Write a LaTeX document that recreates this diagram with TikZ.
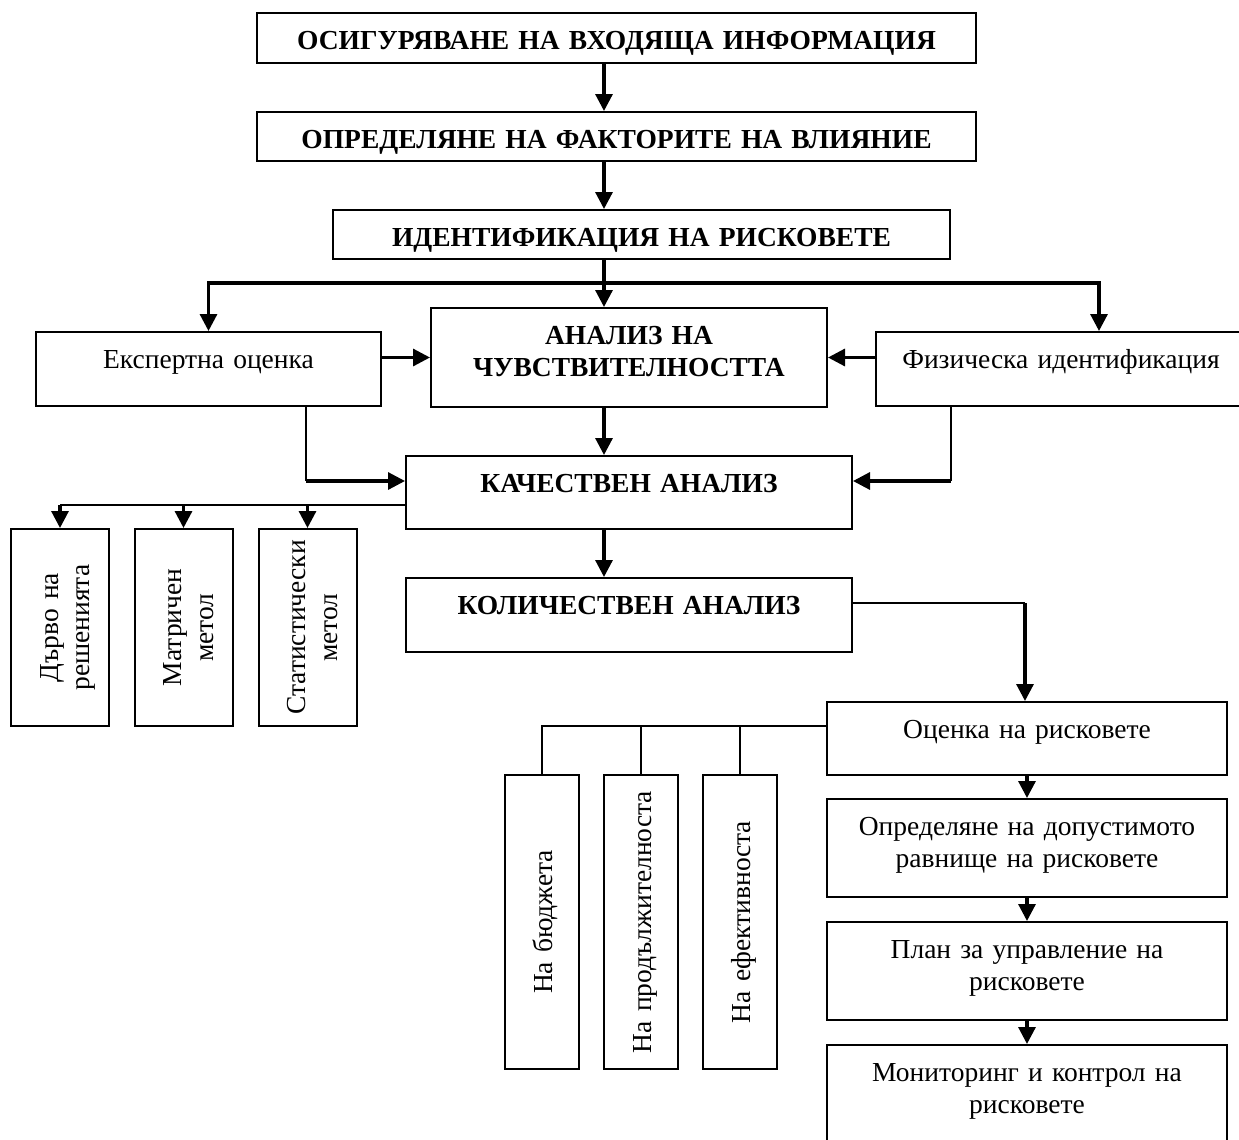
\documentclass[tikz,border=0pt]{standalone}
\usepackage{fontspec}
\setmainfont{Liberation Serif}
\usetikzlibrary{arrows.meta}

\begin{document}
\begin{tikzpicture}[x=0.5pt, y=-0.5pt,
        blk/.style={draw, line width=1pt, inner xsep=0pt, inner ysep=0pt, align=center, font=\fontsize{13.75}{16}\selectfont, text height=18.25pt},
        hd/.style={blk, font=\fontsize{13.75}{16}\selectfont\bfseries},
        vblk/.style={blk, rotate=90, text height=23.5pt},
        arr/.style={line width=1.6pt, -{Triangle[length=8.5pt,width=8.5pt]}},
        ln/.style={line width=0.9pt}]
        \useasboundingbox (0,0) rectangle (1239,1140);
        \clip (0,0) rectangle (1239,1140);

        % main column
        \node[hd, text width=359.5pt, text depth=6.75pt] (info) at (616.5,38) {ОСИГУРЯВАНЕ НА ВХОДЯЩА ИНФОРМАЦИЯ};
        \node[hd, text width=359.5pt, text depth=6.25pt] (factors) at (616.5,136.5) {ОПРЕДЕЛЯНЕ НА ФАКТОРИТЕ НА ВЛИЯНИЕ};
        \node[hd, text width=308.5pt, text depth=6.25pt] (ident) at (641.5,234.5) {ИДЕНТИФИКАЦИЯ НА РИСКОВЕТЕ};
        \node[blk, text width=172.5pt, text depth=18.75pt] (expert) at (208.5,369) {Експертна оценка};
        \node[hd, text width=198pt, text depth=31.25pt] (sens) at (629,357.5) {АНАЛИЗ НА\\ЧУВСТВИТЕЛНОСТТА};
        \node[blk, text width=185pt, text depth=18.75pt] (phys) at (1061,369) {Физическа идентификация};
        \node[hd, text width=223pt, text depth=18.25pt] (qual) at (629,492.5) {КАЧЕСТВЕН АНАЛИЗ};
        \node[hd, text width=223pt, text depth=18.75pt] (quant) at (629,615) {КОЛИЧЕСТВЕН АНАЛИЗ};

        % methods
        \node[vblk, text width=98.5pt, text depth=25.5pt] (tree) at (60,627.5) {Дърво на\\решенията};
        \node[vblk, text width=98.5pt, text depth=25.5pt] (matr) at (183.5,627.5) {Матричен\\метол};
        \node[vblk, text width=98.5pt, text depth=25.5pt] (stat) at (307.5,627.5) {Статистически\\метол};

        % right column
        \node[blk, text width=200pt, text depth=18.25pt] (assess) at (1027,738.5) {Оценка на рисковете};
        \node[blk, text width=200pt, text depth=30.75pt] (level) at (1027,848) {Определяне на допустимото\\равнище на рисковете};
        \node[blk, text width=200pt, text depth=30.75pt] (plan) at (1027,971) {План за управление на\\рисковете};
        \node[blk, text width=200pt, text depth=32.25pt] (monitor) at (1027,1095.5) {Мониторинг и контрол на\\рисковете};

        % aspects
        \node[vblk, text width=147pt, text depth=13.5pt] (budget) at (542,922) {На бюджета};
        \node[vblk, text width=147pt, text depth=13.5pt] (durat) at (641,922) {На продължителноста};
        \node[vblk, text width=147pt, text depth=13.5pt] (effic) at (740,922) {На ефективноста};

        \coordinate (spine) at (604,283);
        \coordinate (forkR) at (1099,283);
        \draw[arr] (info.south -| spine) -- (factors.north -| spine);
        \draw[arr] (factors.south -| spine) -- (ident.north -| spine);
        \draw[line width=1.6pt] (ident.south -| spine) -- (spine);
        \draw[arr] (spine) -| (expert.north);
        \draw[arr] (spine) -- (sens.north -| spine);
        \draw[arr] (spine) -- (forkR) -- (phys.north -| forkR);
        \draw[arr] (expert.east |- sens.west) -- (sens.west);
        \draw[arr] (phys.west |- sens.east) -- (sens.east);
        \draw[arr] (sens.south -| spine) -- (qual.north -| spine);

        \coordinate (expIn) at (306,481);
        \coordinate (physIn) at (951,481);
        \draw[ln] (expert.south -| expIn) -- (expIn);
        \draw[arr] (expIn) -- (qual.west |- expIn);
        \draw[ln] (phys.south -| physIn) -- (physIn);
        \draw[arr] (physIn) -- (qual.east |- physIn);

        \coordinate (methods) at (0,505);
        \draw[line width=1.2pt] (qual.west |- methods) -- (tree.east |- methods);
        \foreach \m in {tree, matr, stat}
            \draw[arr] (\m.east |- methods) -- (\m.east);

        \draw[arr] (qual.south -| spine) -- (quant.north -| spine);
        \coordinate (quantOut) at (1025,603);
        \draw[ln] (quant.east |- quantOut) -- (quantOut);
        \draw[arr] (quantOut) -- (assess.north -| quantOut);
        \foreach \a/\b in {assess/level, level/plan, plan/monitor}
            \draw[arr] (\a.south) -- (\b.north);

        \coordinate (aspects) at (0,726);
        \draw[ln] (assess.west |- aspects) -| (budget.east);
        \foreach \k in {durat, effic}
            \draw[ln] (\k.east |- aspects) -- (\k.east);
\end{tikzpicture}
\end{document}
